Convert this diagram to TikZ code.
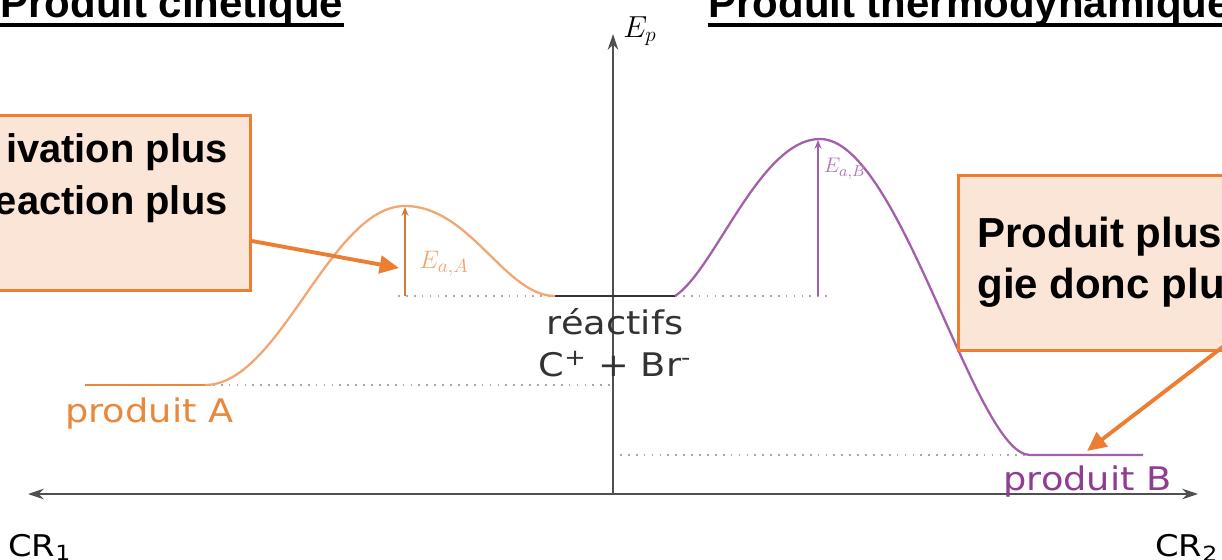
\documentclass[tikz,border=0pt]{standalone}
\usepackage{fontspec}
\setmainfont{Liberation Sans}
\newfontfamily\dejavu[FakeStretch=1.13]{DejaVu Sans}
\usetikzlibrary{arrows.meta}
\definecolor{boxfill}{HTML}{FBE5D6}
\definecolor{boxedge}{HTML}{ED7D31}
\definecolor{curveA}{HTML}{F2A672}
\definecolor{textA}{HTML}{E8883C}
\definecolor{curveB}{HTML}{A35FAA}
\definecolor{textB}{HTML}{8E3C94}
\definecolor{axisgray}{HTML}{505050}
\definecolor{dotgray}{HTML}{A8A8A8}
\begin{document}
\begin{tikzpicture}[x={(0.02cm,0)}, y={(0,-0.02cm)},
  title/.style={font=\fontsize{23.9}{28}\selectfont\bfseries, inner sep=0},
  boxtxt/.style={font=\fontsize{22.7}{28}\selectfont\bfseries, inner sep=0},
  boxtxtB/.style={font=\fontsize{23.9}{28}\selectfont\bfseries, inner sep=0},
  lbl/.style={font=\dejavu\fontsize{18.5}{22}\selectfont, inner sep=0},
  callout/.style={draw=boxedge, fill=boxfill, line width=1.6pt, inner sep=0},
  pointer/.style={draw=boxedge, line width=2.2pt, -{Triangle[length=11pt,width=10pt]}},
  axis/.style={draw=axisgray, line width=1.1pt},
  dots/.style={draw=dotgray, line width=1pt, dash pattern=on 1pt off 3.5pt},
  ulin/.style={line width=2pt},
]
\useasboundingbox (0,0) rectangle (1222,560);

% titles
\node[title, anchor=base west] (t1) at (0,18) {Produit cinétique};
\draw[ulin] ([yshift=-0.14cm]t1.base west) -- ([yshift=-0.14cm]t1.base east);
\node[title, anchor=base west] (t2) at (708,18) {Produit thermodynamique};
\draw[ulin] ([yshift=-0.14cm]t2.base west) -- ([yshift=-0.14cm]t2.base east);

% axes
\coordinate (xl) at (28,494);
\coordinate (xr) at (1198,494);
\coordinate (o) at (613,494);
\coordinate (yt) at (613,34);
\draw[axis, {Stealth[length=9pt,width=6pt]}-{Stealth[length=9pt,width=6pt]}] (xl) -- (xr);
\draw[axis, -{Stealth[length=9pt,width=6pt]}] (o) -- (yt);
\node[font=\fontsize{18}{20}\selectfont, anchor=west, inner sep=0] (ep) at (623,31) {$E_p$};
\node[lbl, font=\dejavu\fontsize{17}{20}\selectfont, anchor=base west] (cr1) at (8,556) {CR\textsubscript{1}};
\node[lbl, font=\dejavu\fontsize{17}{20}\selectfont, anchor=base west] (cr2) at (1155,556) {CR\textsubscript{2}};

% dotted reference lines
\draw[dots] (205,385) -- (613,385);
\draw[dots] (398,296) -- (555,296);
\draw[dots] (675,296) -- (832,296);
\draw[dots] (620,455) -- (1030,455);

% reactants
\draw[black!80, line width=1.5pt] (555,296) -- (675,296);
\node[lbl, text=black!80] (reac) at (615,322) {réactifs};
\node[lbl, text=black!80] (ions) at (615,364) {C\textsuperscript{+} + Br\textsuperscript{-}};

% path A (kinetic)
\draw[textA, line width=1.5pt] (85,385) -- (205,385);
\draw[curveA, line width=1.3pt] (205,385) .. controls (280,385) and (330,206) .. (405,206)
  .. controls (470,206) and (505,296) .. (555,296);
\coordinate (a0) at (405,296);
\coordinate (a1) at (405,207);
\draw[textA!90!black, line width=0.8pt, -{Stealth[length=5pt,width=4pt]}] (a0) -- (a1);
\node[text=curveA, font=\fontsize{15}{17}\selectfont] (eaA) at (444,264) {$E_{a,A}$};
\node[lbl, text=textA, anchor=base west] (pA) at (65,422) {produit A};

% path B (thermodynamic)
\draw[curveB, line width=1.3pt] (675,296) .. controls (715,270) and (760,139) .. (820,139)
  .. controls (900,139) and (975,455) .. (1030,455) -- (1143,455);
\coordinate (b0) at (818,296);
\coordinate (b1) at (818,140);
\draw[curveB, line width=0.8pt, -{Stealth[length=5pt,width=4pt]}] (b0) -- (b1);
\node[text=textB!70, font=\fontsize{13}{15}\selectfont] (eaB) at (845,169) {$E_{a,B}$};
\node[lbl, text=textB, anchor=base west] (pB) at (1003,490) {produit B};

% callout boxes
\node[callout, anchor=north east, minimum width=5.4cm, minimum height=3.5cm] (boxA) at (252,114) {};
\node[boxtxt, anchor=base east] (tA1) at (228,163) {ivation plus};
\node[boxtxt, anchor=base east] (tA2) at (228,215) {eaction plus};
\coordinate (srcA) at (252,241);
\coordinate (tipA) at (399,268);
\draw[pointer] (srcA) -- (tipA);

\node[callout, anchor=north west, minimum width=6cm, minimum height=3.5cm] (boxB) at (957,174) {};
\node[boxtxtB, anchor=base west] (tB1) at (977,248) {Produit plus};
\node[boxtxtB, anchor=base west] (tB2) at (977,298) {gie donc plu};
\coordinate (srcB) at (1224,346);
\coordinate (tipB) at (1087,451);
\draw[pointer] (srcB) -- (tipB);
\end{tikzpicture}
\end{document}
